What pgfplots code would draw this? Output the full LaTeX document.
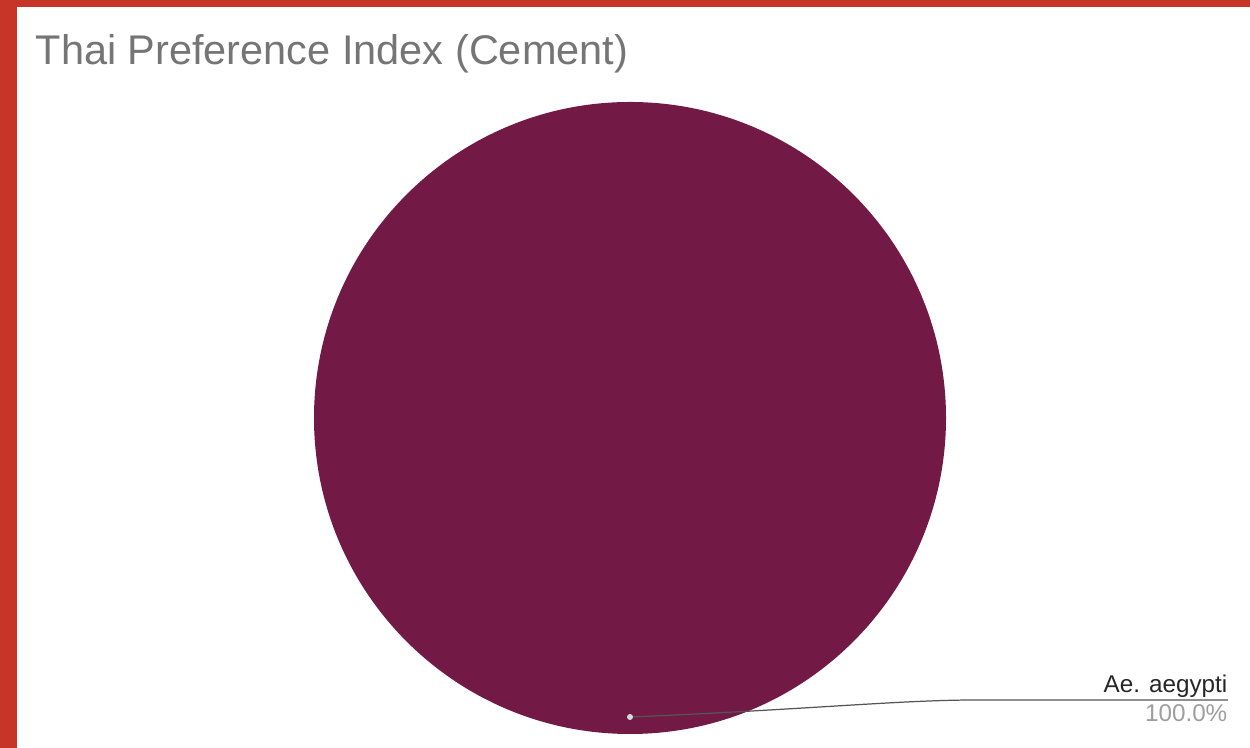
\documentclass[border=0pt]{standalone}
\usepackage{pgfplots}
\pgfplotsset{compat=1.18}
\usepackage{fontspec}
\setmainfont{Liberation Sans}
\definecolor{frame}{HTML}{C63527}
\definecolor{slice}{HTML}{721A45}
\definecolor{titlegray}{HTML}{757575}
\definecolor{pctgray}{HTML}{9E9E9E}
\definecolor{linegray}{HTML}{555555}
\begin{document}
\begin{tikzpicture}
\begin{axis}[
  width=12.5cm, height=7.48cm, scale only axis,
  xmin=0, xmax=1250, ymin=0, ymax=748,
  axis lines=none, clip=false,
]
% data: one slice, Ae. aegypti = 100%
\def\sliceval{100.0}
\fill[white] (axis cs:0,0) rectangle (axis cs:1250,748);
\fill[frame] (axis cs:0,741) rectangle (axis cs:1250,748);
\fill[frame] (axis cs:0,0) rectangle (axis cs:17,748);
\fill[slice] (axis cs:630,330) circle[radius=316];
\node[anchor=base west, text=titlegray, font=\fontsize{11.8pt}{13pt}\selectfont, inner sep=0pt] at (axis cs:35,683) {Thai Preference Index (Cement)};
\draw[linegray, line width=0.35pt] (axis cs:630,31) .. controls (axis cs:800,38) and (axis cs:900,48) .. (axis cs:975,48) -- (axis cs:1228,48);
\fill[gray!30] (axis cs:630,31) circle[radius=3];
\node[anchor=base east, text=black!85, font=\fontsize{6.9pt}{8pt}\selectfont, inner sep=0pt] at (axis cs:1228,55) {Ae. aegypti};
\node[anchor=base east, text=pctgray, font=\fontsize{6.9pt}{8pt}\selectfont, inner sep=0pt] at (axis cs:1228,26) {\sliceval\%};
\end{axis}
\end{tikzpicture}
\end{document}
